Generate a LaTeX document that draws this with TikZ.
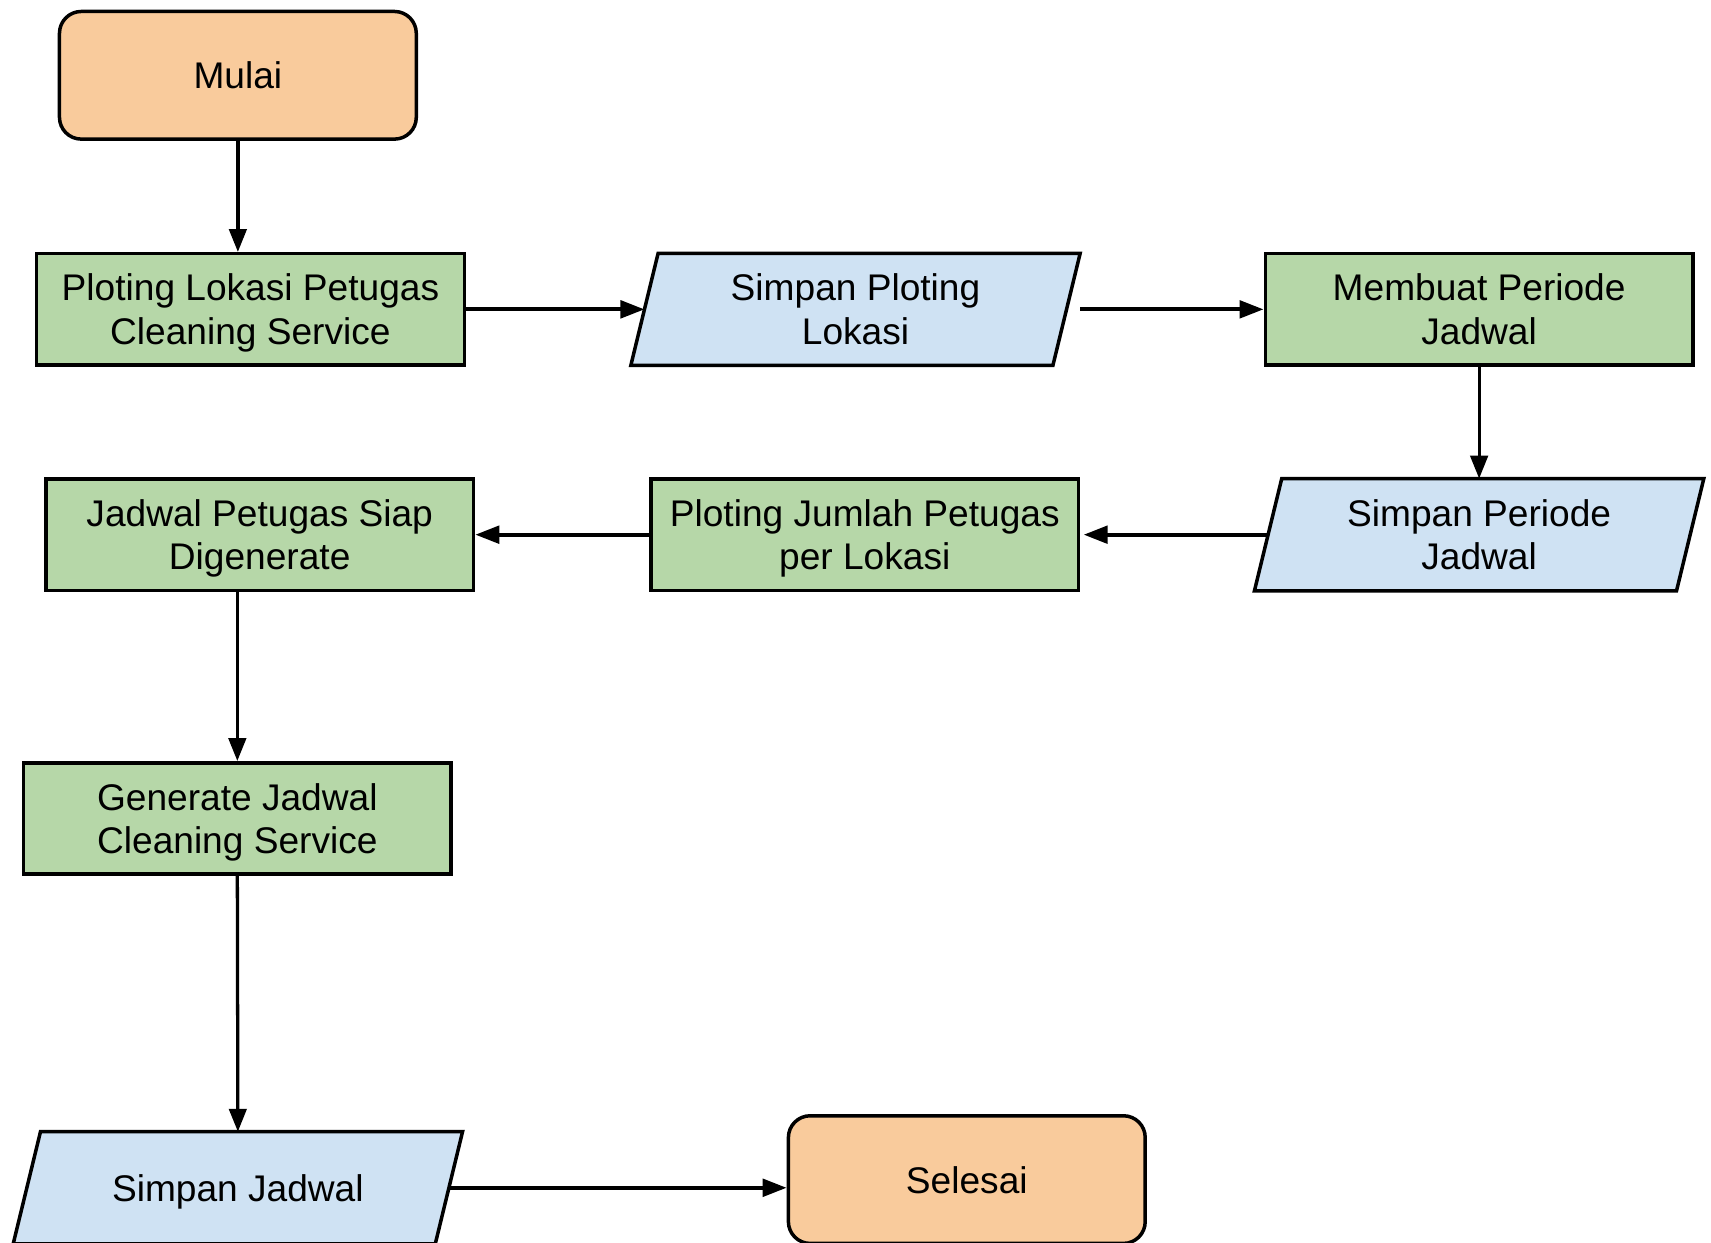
\documentclass[tikz,border=0pt]{standalone}
\usepackage{fontspec}
\setmainfont{Liberation Sans}
\usetikzlibrary{arrows.meta,backgrounds}
\definecolor{startc}{HTML}{F9CB9C}
\definecolor{procc}{HTML}{B6D7A8}
\definecolor{datac}{HTML}{CFE2F3}
\newcommand\paradraw[1]{%
  \begin{pgfonlayer}{background}
  \draw[para] ([xshift=6.25pt]#1.north west) -- ([xshift=6.25pt]#1.north east) -- ([xshift=-6.25pt]#1.south east) -- ([xshift=-6.25pt]#1.south west) -- cycle;
  \end{pgfonlayer}}
\begin{document}
\begin{tikzpicture}[x=0.5pt,y=-0.5pt,
  every node/.style={font=\fontsize{17}{20}\selectfont, align=center, inner sep=0pt, text depth=0pt},
  term/.style={draw, line width=1.6pt, fill=startc, rounded corners=10pt, minimum width=163.5pt, minimum height=58.5pt},
  proc/.style={draw, line width=1.6pt, fill=procc, minimum width=196pt, minimum height=51pt},
  data/.style={minimum width=193pt, minimum height=51pt},
  para/.style={draw, line width=1.6pt, fill=datac, line join=miter},
  arr/.style={line width=1.5pt, -{Triangle[length=10.5pt,width=8pt]}},
  harr/.style={line width=1.8pt, -{Triangle[length=11pt,width=8pt]}}]
\useasboundingbox (0,0) rectangle (1568,1139);

\node[term] (mulai) at (218,69) {Mulai};
\node[proc] (pl) at (229.5,283.5) {Ploting Lokasi Petugas\\Cleaning Service};
\node[data] (sp) at (784,283.5) {Simpan Ploting\\Lokasi};
\node[proc] (mb) at (1355.5,283.5) {Membuat Periode\\Jadwal};
\node[data] (spj) at (1355.5,490) {Simpan Periode\\Jadwal};
\node[proc] (pj) at (792.5,490) {Ploting Jumlah Petugas\\per Lokasi};
\node[proc] (jp) at (238,490) {Jadwal Petugas Siap\\Digenerate};
\node[proc] (gen) at (217.5,750) {Generate Jadwal\\Cleaning Service};
\node[data] (sj) at (218,1088.5) {Simpan Jadwal};
\node[term] (sel) at (886,1081) {Selesai};

\paradraw{sp}
\paradraw{spj}
\paradraw{sj}

\draw[arr] (mulai.south) -- (mulai.south |- pl.north);
\draw[harr] (pl.east) -- (sp.west);
\draw[harr] ([xshift=6.25pt]sp.east) -- (mb.west);
\draw[arr] (mb.south) -- (spj.north);
\draw[harr] (spj.west) -- ([xshift=1.5pt]pj.east);
\draw[harr] (pj.west) -- (jp.east);
\draw[arr] (gen.north |- jp.south) -- (gen.north);
\draw[arr] (gen.south) -- (sj.north);
\draw[harr] (sj.east) -- (sj.east -| sel.west);
\end{tikzpicture}
\end{document}
